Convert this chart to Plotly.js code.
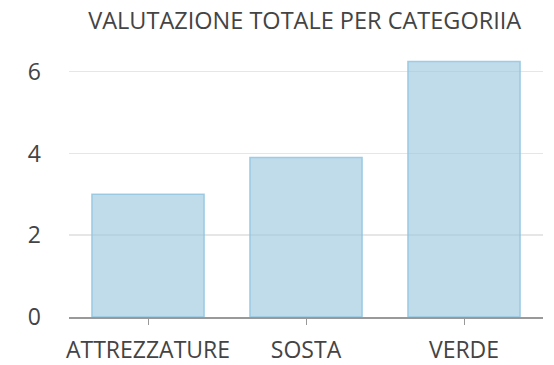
<!DOCTYPE html>
<html>
<head>
<meta charset="utf-8">
<script src="https://cdn.plot.ly/plotly-3.0.1.min.js"></script>
<style>
  html, body { margin: 0; padding: 0; background: #fff; }
  #chart { width: 554px; height: 365px; }
</style>
</head>
<body>
<div id="chart"></div>
<script>
// Punteggio totale per ciascuna categoria
const categorie = ['ATTREZZATURE', 'SOSTA', 'VERDE'];
const valutazioni = [3.0, 3.9, 6.25];
const tickValori = [0, 2, 4, 6];

const trace = {
  type: 'bar',
  x: categorie,
  y: valutazioni,
  marker: {
    color: 'rgba(158,202,225,0.65)',
    line: { color: 'rgba(140,195,222,0.8)', width: 1.5 }
  },
  hoverinfo: 'x+y'
};

const layout = {
  width: 554,
  height: 365,
  margin: { l: 69, r: 11, t: 48, b: 48 },
  paper_bgcolor: '#ffffff',
  plot_bgcolor: '#ffffff',
  font: { family: 'Open Sans, sans-serif', color: '#444444', size: 23 },
  title: {
    text: 'VALUTAZIONE TOTALE PER CATEGORIIA',
    font: { family: 'Open Sans, sans-serif', size: 23.5, color: '#444444' },
    x: 0.55, xanchor: 'center', y: 0.942, yanchor: 'middle'
  },
  bargap: 0.29,
  showlegend: false,
  xaxis: {
    type: 'category',
    showline: true,
    linecolor: '#999999',
    linewidth: 1.5,
    ticks: 'outside',
    ticklen: 6,
    tickcolor: '#999999',
    ticklabelstandoff: 6,
    showgrid: false,
    tickfont: { size: 23, color: '#444444' }
  },
  yaxis: {
    range: [0, 6.58],
    tickvals: tickValori,
    ticktext: tickValori.map(String),
    showgrid: true,
    gridcolor: '#e6e6e6',
    gridwidth: 1.5,
    zeroline: false,
    showline: false,
    ticks: '',
    ticklabelstandoff: 27,
    tickfont: { size: 23, color: '#444444' }
  }
};

Plotly.newPlot('chart', [trace], layout, { displayModeBar: false, staticPlot: true });
</script>
</body>
</html>
